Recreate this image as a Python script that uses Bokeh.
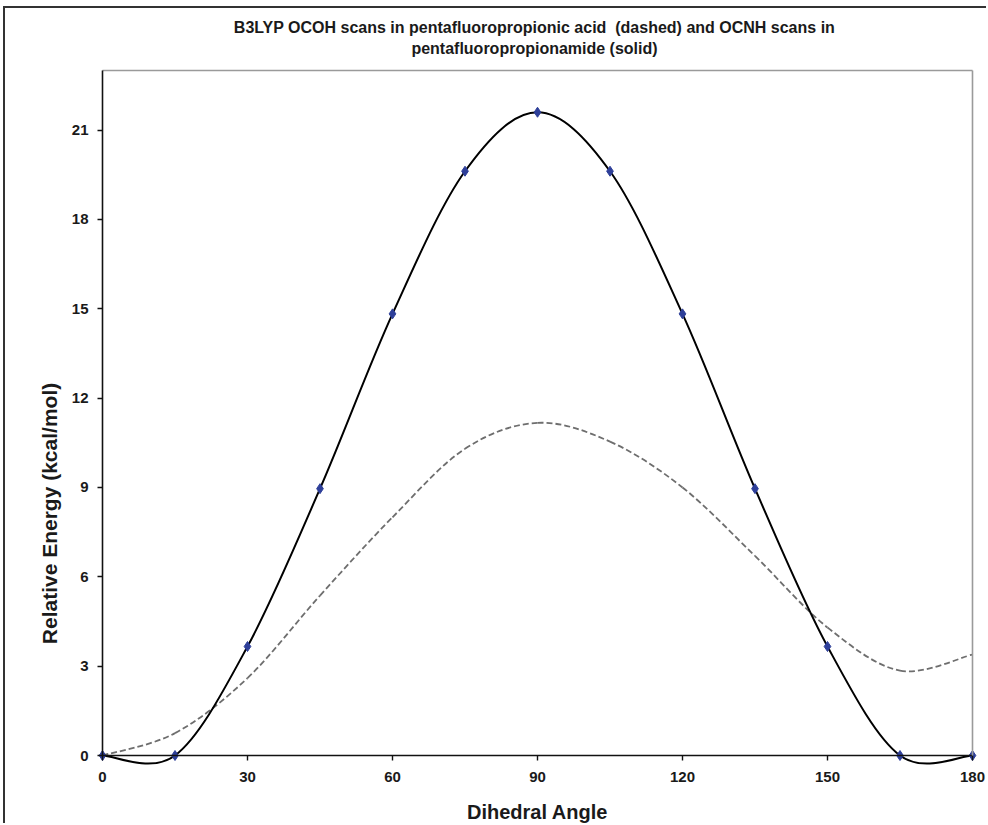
from bokeh.plotting import figure
from bokeh.models import Range1d, LinearAxis, FixedTicker, Label
from bokeh.embed import file_html
from bokeh.resources import INLINE

# ---- data ----
angles = [0, 15, 30, 45, 60, 75, 90, 105, 120, 135, 150, 165, 180]
amide_energy = [0.0, 0.0, 3.66, 8.96, 14.83, 19.62, 21.6, 19.62, 14.83, 8.96, 3.66, 0.0, 0.0]
acid_energy = [0.0, 0.75, 2.6, 5.37, 8.0, 10.3, 11.17, 10.54, 9.0, 6.7, 4.3, 2.85, 3.39]
x_ticks = [0, 30, 60, 90, 120, 150, 180]
y_ticks = [0, 3, 6, 9, 12, 15, 18, 21]
title_lines = ["B3LYP OCOH scans in pentafluoropropionic acid \u00a0(dashed) and OCNH scans in",
               "pentafluoropropionamide (solid)"]
x_label = "Dihedral Angle"
y_label = "Relative Energy (kcal/mol)"

FONT = "Liberation Sans"
TXT = "#1a1a1a"

# ---- layout (page pixels) ----
CANVAS_X0, CANVAS_Y0 = 5, 8          # canvas origin on page (after CSS border)
PAGE_W, PAGE_H = 988, 825
PX_X0, PX_X180 = 102, 972            # pixel of x=0 and x=180
PX_Y0, PY_PER_UNIT = 755, 29.78      # pixel of y=0 and px per kcal/mol
sx = (PX_X180 - PX_X0) / 180.0
x_start = -(PX_X0 - CANVAS_X0) / sx
x_end = 180 + (PAGE_W - PX_X180) / sx
y_end = (PX_Y0 - CANVAS_Y0) / PY_PER_UNIT
y_start = -(PAGE_H - PX_Y0) / PY_PER_UNIT


def py(pix):
    """page pixel row -> data y"""
    return (PX_Y0 - pix) / PY_PER_UNIT


def px(pix):
    """page pixel column -> data x"""
    return (pix - PX_X0) / sx


def smooth_segments(xs, ys):
    """Excel-style smoothed line: cubic Bezier control points from neighbours."""
    n = len(xs)
    out = {k: [] for k in ("x0", "y0", "x1", "y1", "cx0", "cy0", "cx1", "cy1")}
    for i in range(n - 1):
        im1 = max(i - 1, 0)
        ip2 = min(i + 2, n - 1)
        out["x0"].append(xs[i]); out["y0"].append(ys[i])
        out["x1"].append(xs[i + 1]); out["y1"].append(ys[i + 1])
        out["cx0"].append(xs[i] + (xs[i + 1] - xs[im1]) / 6.0)
        out["cy0"].append(ys[i] + (ys[i + 1] - ys[im1]) / 6.0)
        out["cx1"].append(xs[i + 1] - (xs[ip2] - xs[i]) / 6.0)
        out["cy1"].append(ys[i + 1] - (ys[ip2] - ys[i]) / 6.0)
    return out


p = figure(width=PAGE_W - CANVAS_X0, height=PAGE_H - CANVAS_Y0,
           x_range=Range1d(x_start, x_end), y_range=Range1d(y_start, y_end),
           output_backend="svg", toolbar_location=None,
           x_axis_location=None, y_axis_location=None,
           min_border_left=0, min_border_right=0,
           min_border_top=0, min_border_bottom=0)
p.title.visible = False
p.outline_line_color = None
p.background_fill_color = "white"
p.border_fill_color = "white"
for g in p.grid:
    g.visible = False
p.styles = {"margin-left": "3px", "margin-top": "6px",
            "border-left": "2px solid #333", "border-top": "2px solid #333"}


def style_axis(ax):
    ax.axis_line_color = "#111"
    ax.axis_line_width = 1.6
    ax.major_tick_line_color = "#111"
    ax.major_tick_line_width = 1.4
    ax.major_tick_in = 0
    ax.major_tick_out = 5
    ax.minor_tick_line_color = None
    ax.major_label_text_font = FONT
    ax.major_label_text_font_style = "bold"
    ax.major_label_text_font_size = "15px"
    ax.major_label_text_color = TXT


xaxis = LinearAxis(fixed_location=0, bounds=(0, 180), ticker=FixedTicker(ticks=x_ticks))
style_axis(xaxis)
xaxis.major_label_standoff = 11
p.add_layout(xaxis, "below")

yaxis = LinearAxis(fixed_location=0, bounds=(0, 23), ticker=FixedTicker(ticks=y_ticks))
style_axis(yaxis)
yaxis.major_label_standoff = 9
p.add_layout(yaxis, "left")

for loc, place, bnds in ((180, "right", (0, 23)), (23, "above", (0, 180))):
    ax = LinearAxis(fixed_location=loc, bounds=bnds, ticker=FixedTicker(ticks=[]))
    ax.axis_line_color = "#9a9a9a"
    ax.axis_line_width = 1.6
    ax.major_tick_line_color = None
    ax.minor_tick_line_color = None
    ax.major_label_text_font_size = "0px"
    ax.major_label_standoff = 0
    p.add_layout(ax, place)

# dashed: acid
seg = smooth_segments(angles, acid_energy)
p.bezier(line_color="#6e6e6e", line_width=1.8, line_dash="6 3", **seg)
# solid: amide
seg = smooth_segments(angles, amide_energy)
p.bezier(line_color="black", line_width=2.0, **seg)
p.scatter(angles, amide_energy, marker="diamond", size=10, color="#2E3F99")

# texts
lab = dict(text_align="center", text_baseline="middle", text_font=FONT,
           text_font_style="bold", text_color=TXT)
p.add_layout(Label(x=px(534), y=py(27), text=title_lines[0], text_font_size="16px", **lab))
p.add_layout(Label(x=px(534), y=py(48), text=title_lines[1], text_font_size="16px", **lab))
p.add_layout(Label(x=px(537), y=py(811), text=x_label, text_font_size="20px", **lab))
p.add_layout(Label(x=px(49), y=py(513), text=y_label, angle=1.5708,
                   text_font_size="21px", **lab))

open("out.html", "w").write(file_html(p, INLINE))
